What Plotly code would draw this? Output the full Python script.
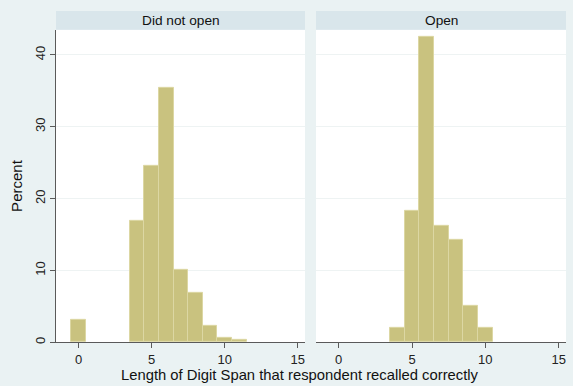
import plotly.graph_objects as go

# Digit span lengths (bin centres) and percentage of respondents per group
span_len = [0, 4, 5, 6, 7, 8, 9, 10, 11]
pct_not_open = [3.1, 16.9, 24.6, 35.4, 10.1, 6.9, 2.3, 0.55, 0.3]

span_len_open = [4, 5, 6, 7, 8, 9, 10]
pct_open = [2.0, 18.3, 42.5, 16.2, 14.2, 5.1, 2.0]

panel_titles = ["Did not open", "Open"]
x_ticks = [0, 5, 10, 15]
y_ticks = [0, 10, 20, 30, 40]

W, H = 573, 386
BG = "#eaf2f3"
STRIP = "#d9e6eb"
BAR = "#c9c27f"
BAR_EDGE = "#dcd7a3"
AXIS = "#5a5a5a"
FONT = "Liberation Sans, Arial, sans-serif"

# panel extents in pixels
panels = [(56, 305), (316, 566)]
plot_top, plot_bot = 30, 344
strip_top = 11

def px_x(p):
    return p / W

def px_y(p):
    return 1 - p / H

fig = go.Figure()
for i, (xs, ys) in enumerate([(span_len, pct_not_open), (span_len_open, pct_open)]):
    fig.add_trace(go.Bar(
        x=xs, y=ys, width=1,
        marker=dict(color=BAR, line=dict(color=BAR_EDGE, width=1)),
        xaxis="x" if i == 0 else "x2",
        yaxis="y" if i == 0 else "y2",
        showlegend=False,
    ))

common_x = dict(
    range=[-1.55, 15.5], tickvals=x_ticks, ticks="outside", ticklen=5,
    tickcolor=AXIS, showline=True, linecolor=AXIS, linewidth=1,
    showgrid=False, zeroline=False, tickfont=dict(size=13, color="#222"),
)
common_y = dict(
    range=[0, 43.5], tickvals=y_ticks, gridcolor="#eef3f3", gridwidth=1,
    zeroline=False, tickfont=dict(size=13, color="#222"),
)

fig.update_layout(
    width=W, height=H,
    margin=dict(l=0, r=0, t=0, b=0),
    paper_bgcolor=BG, plot_bgcolor="white",
    font=dict(family=FONT, color="#222"),
    bargap=0,
    xaxis=dict(domain=[px_x(panels[0][0]), px_x(panels[0][1])], anchor="y", **common_x),
    xaxis2=dict(domain=[px_x(panels[1][0]), px_x(panels[1][1])], anchor="y2", **common_x),
    yaxis=dict(domain=[px_y(plot_bot), px_y(plot_top)], anchor="x",
               showline=True, linecolor=AXIS, linewidth=1, ticks="outside",
               ticklen=5, tickcolor=AXIS, tickangle=-90,
               title=dict(text="Percent", font=dict(size=15, color="#111"), standoff=6),
               **common_y),
    yaxis2=dict(domain=[px_y(plot_bot), px_y(plot_top)], anchor="x2",
                showline=False, showticklabels=False, ticks="", **common_y),
)

# Panel header strips
for (x0, x1), title in zip(panels, panel_titles):
    fig.add_shape(type="rect", xref="paper", yref="paper",
                  x0=px_x(x0), x1=px_x(x1), y0=px_y(plot_top), y1=px_y(strip_top),
                  fillcolor=STRIP, line=dict(width=0), layer="below")
    fig.add_annotation(xref="paper", yref="paper", x=px_x((x0 + x1) / 2),
                       y=px_y((plot_top + strip_top) / 2), text=title,
                       showarrow=False, font=dict(size=13.7, color="#111"),
                       xanchor="center", yanchor="middle")

fig.add_annotation(xref="paper", yref="paper", x=px_x(299.5), y=px_y(377),
                   text="Length of Digit Span that respondent recalled correctly",
                   showarrow=False, font=dict(size=14.8, color="#111"),
                   xanchor="center", yanchor="middle")

fig.write_html("out.html")
